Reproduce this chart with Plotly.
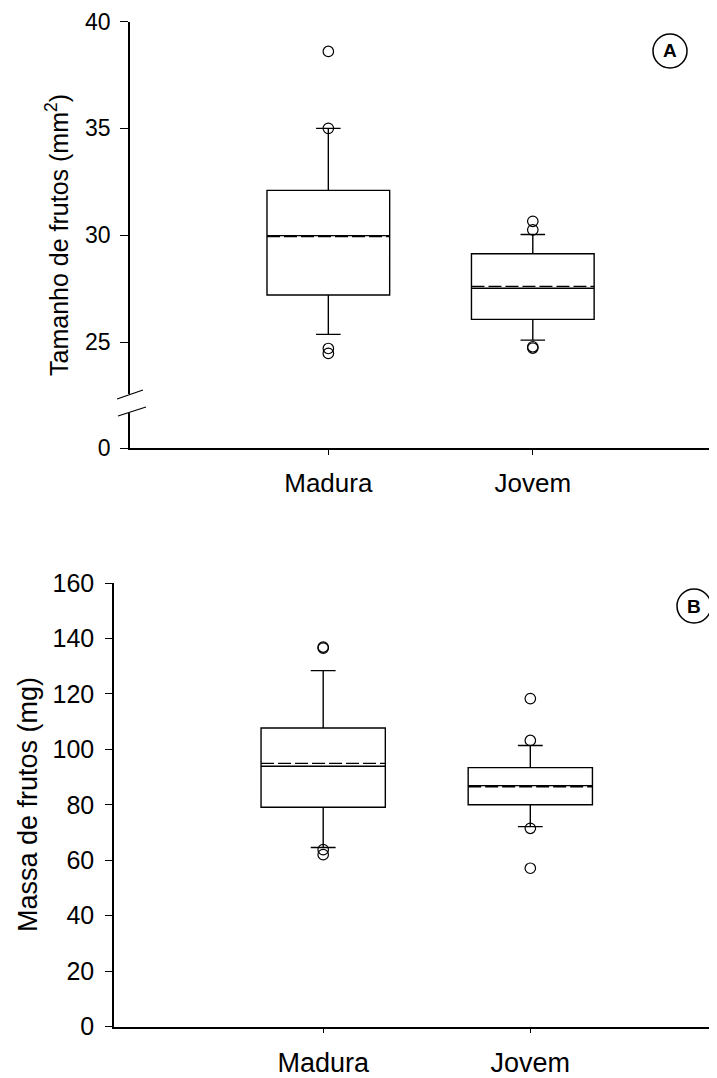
import plotly.graph_objects as go

W, H = 717, 1078
OFF = 8  # page body margin of the html document
FONT = "Arial, Liberation Sans, sans-serif"

categories = ["Madura", "Jovem"]

# Panel A: Tamanho de frutos (mm2)
a_q1 = [27.2, 26.06]
a_median = [29.98, 27.52]
a_q3 = [32.1, 29.13]
a_lower = [25.36, 25.09]
a_upper = [35.0, 30.03]
a_mean = [29.93, 27.61]
a_out_madura = [38.6, 35.0, 24.7, 24.47]
a_out_jovem = [30.65, 30.25, 24.78, 24.72]

# Panel B: Massa de frutos (mg)
b_q1 = [79.1, 80.0]
b_median = [93.9, 86.9]
b_q3 = [107.7, 93.4]
b_lower = [64.6, 72.1]
b_upper = [128.4, 101.4]
b_mean = [94.9, 86.5]
b_out_madura = [136.9, 136.5, 63.8, 62.0]
b_out_jovem = [118.3, 103.2, 71.5, 57.1]

a_ticks = [25, 30, 35, 40]
a_low_ticks = [0]
b_ticks = [0, 20, 40, 60, 80, 100, 120, 140, 160]

BOX_W = 0.6
xpos = list(range(len(categories)))


def px(x):
    return (x - OFF) / W


def py(y):
    return 1 - (y - OFF) / H


fig = go.Figure()

box_style = dict(
    boxpoints=False,
    boxmean=False,
    width=BOX_W,
    whiskerwidth=0.2,
    fillcolor="white",
    line=dict(color="black", width=1.4),
    showlegend=False,
    hoverinfo="skip",
)
mk = dict(symbol="circle-open", size=10.5, color="black", line=dict(width=1.2, color="black"))


def add_panel(xa, ya, q1, med, q3, lo, up, mean, out_m, out_j):
    fig.add_trace(go.Box(x=xpos, q1=q1, median=med, q3=q3,
                         lowerfence=lo, upperfence=up,
                         xaxis=xa, yaxis=ya, **box_style))
    for i, m in enumerate(mean):
        fig.add_trace(go.Scatter(x=[xpos[i] - BOX_W / 2, xpos[i] + BOX_W / 2], y=[m, m],
                                 mode="lines", line=dict(color="black", width=1.3, dash="13px,4px"),
                                 xaxis=xa, yaxis=ya, showlegend=False, hoverinfo="skip"))
    fig.add_trace(go.Scatter(x=[xpos[0]] * len(out_m) + [xpos[1]] * len(out_j),
                             y=out_m + out_j, mode="markers", marker=mk,
                             xaxis=xa, yaxis=ya, showlegend=False, cliponaxis=False))


add_panel("x", "y", a_q1, a_median, a_q3, a_lower, a_upper, a_mean, a_out_madura, a_out_jovem)
# empty trace so that the lower (broken) part of axis A exists
fig.add_trace(go.Scatter(x=xpos, y=[None, None], mode="markers",
                         xaxis="x", yaxis="y2", showlegend=False, hoverinfo="skip"))
add_panel("x3", "y3", b_q1, b_median, b_q3, b_lower, b_upper, b_mean, b_out_madura, b_out_jovem)


def axis(size, **kw):
    d = dict(showline=True, linecolor="black", linewidth=1.5, showgrid=False,
             zeroline=False, ticks="outside", tickcolor="black", tickwidth=1.2,
             automargin=False,
             tickfont=dict(family=FONT, color="black", size=size))
    d.update(kw)
    return d


fig.update_layout(
    template="none",
    autosize=False,
    width=W, height=H,
    margin=dict(l=0, r=0, t=0, b=0, pad=0),
    plot_bgcolor="white", paper_bgcolor="white",
    showlegend=False,
    font=dict(family=FONT, color="black"),
    xaxis=axis(26, domain=[px(130), 1], anchor="y2", type="linear",
               tickvals=xpos, ticktext=categories,
               range=[-0.97, 1.94], ticklen=5, ticklabelstandoff=6),
    yaxis=axis(23, domain=[py(394), py(21.5)], anchor="x", range=[22.57, 40],
               tickvals=a_ticks, ticklen=8, ticklabelstandoff=5),
    yaxis2=axis(23, domain=[py(448), py(413)], anchor="x", range=[0, 1.64],
                tickvals=a_low_ticks, ticklen=8, ticklabelstandoff=5),
    xaxis3=axis(27, domain=[px(114), 1], anchor="y3", type="linear",
                tickvals=xpos, ticktext=categories,
                range=[-1.01, 1.94], ticklen=5, ticklabelstandoff=6),
    yaxis3=axis(25, domain=[py(1026.5), py(583)], anchor="x3", range=[0, 160],
                tickvals=b_ticks, ticklen=7, ticklabelstandoff=6),
)

# Axis break marks on panel A
for (x0, y0, x1, y1) in [(117, 399, 143, 390), (118, 416, 146, 407)]:
    fig.add_shape(type="line", xref="paper", yref="paper",
                  x0=px(x0), y0=py(y0), x1=px(x1), y1=py(y1),
                  line=dict(color="black", width=1.3))

# Circled panel letters
for (cx, cy, letter) in [(670, 51, "A"), (694, 606, "B")]:
    r = 17
    fig.add_shape(type="circle", xref="paper", yref="paper",
                  x0=px(cx - r), x1=px(cx + r), y0=py(cy + r), y1=py(cy - r),
                  line=dict(color="black", width=1.5))
    fig.add_annotation(x=px(cx), y=py(cy), xref="paper", yref="paper",
                       text=f"<b>{letter}</b>", showarrow=False,
                       font=dict(family=FONT, size=19, color="black"),
                       xanchor="center", yanchor="middle")

# Y-axis titles
fig.add_annotation(x=px(57), y=py(235), xref="paper", yref="paper",
                   text="Tamanho de frutos (mm<sup>2</sup>)", textangle=-90,
                   showarrow=False, font=dict(family=FONT, size=25, color="black"),
                   xanchor="center", yanchor="middle")
fig.add_annotation(x=px(28), y=py(805), xref="paper", yref="paper",
                   text="Massa de frutos (mg)", textangle=-90,
                   showarrow=False, font=dict(family=FONT, size=27, color="black"),
                   xanchor="center", yanchor="middle")

fig.write_html("out.html")
